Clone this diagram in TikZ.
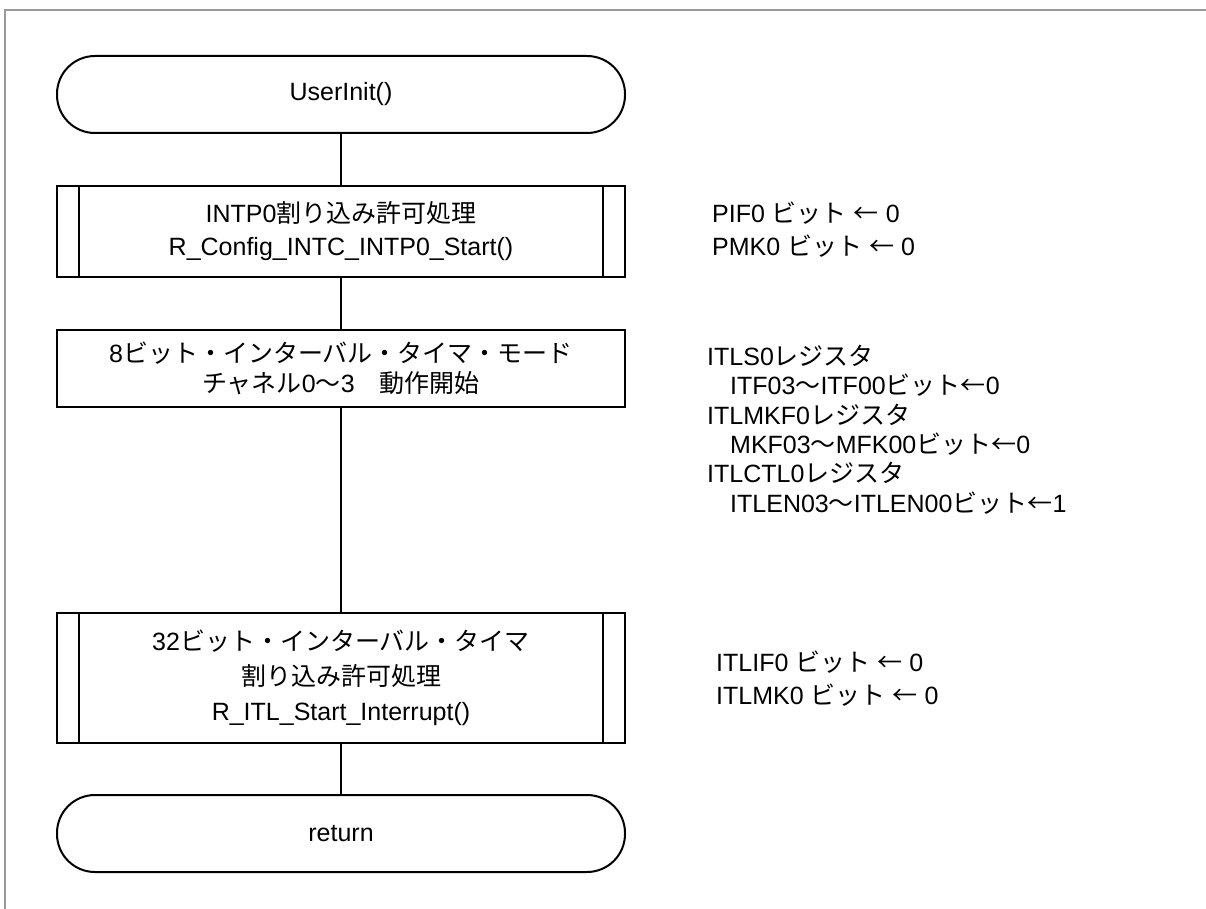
\documentclass[tikz,border=0pt]{standalone}
\usepackage{fontspec}
\setmainfont{Liberation Sans}
\newfontfamily\jpfont{Noto Sans CJK JP}
\newcommand{\ja}[1]{{\jpfont #1}}
\tikzset{
  term/.style={draw, line width=2pt, rounded corners=38pt, minimum width=568pt, minimum height=77pt, inner sep=0pt},
  proc/.style={draw, line width=2pt, minimum width=568pt, inner sep=0pt, align=center},
  note/.style={anchor=west, align=left, inner sep=0pt},
  flow/.style={line width=2pt}
}

\begin{document}
\begin{tikzpicture}[x=1pt, y=-1pt, font=\fontsize{25}{33}\selectfont]
    \useasboundingbox (0,0) rectangle (1206,909);
    \draw[gray!80, line width=1.2pt] (1206,10) -- (5,10) -- (5,909);
    \node[term] (start) at (341,94.5) {UserInit()};
    \node[proc, minimum height=91pt] (intp) at (341,231.5)
      {INTP0\ja{割り込み許可処理}\\R\_Config\_INTC\_INTP0\_Start()};
    \node[proc, minimum height=77pt, font=\fontsize{25}{30}\selectfont] (itlmode) at (341,368.5)
      {8\ja{ビット・インターバル・タイマ・モード}\\\ja{チャネル}0\ja{～}3\ja{　動作開始}};
    \node[proc, minimum height=130pt, font=\fontsize{25}{35}\selectfont] (itlint) at (341,678)
      {32\ja{ビット・インターバル・タイマ}\\\ja{割り込み許可処理}\\R\_ITL\_Start\_Interrupt()};
    \node[term] (ret) at (341,833.5) {return};
    \foreach \n in {intp,itlint} {
      \draw[flow] ([xshift=23pt]\n.north west) -- ([xshift=23pt]\n.south west);
      \draw[flow] ([xshift=-23pt]\n.north east) -- ([xshift=-23pt]\n.south east);
    }
    \draw[flow] (start) -- (intp);
    \draw[flow] (intp) -- (itlmode);
    \draw[flow] (itlmode) -- (itlint);
    \draw[flow] (itlint) -- (ret);
    \node[note] (pifnote) at (712,229.5)
      {PIF0 \ja{ビット} \ja{←} 0\\PMK0 \ja{ビット} \ja{←} 0};
    \node[note, font=\fontsize{25}{29.4}\selectfont] (itlsnote) at (707,429.5)
      {ITLS0\ja{レジスタ}\\
       \hspace*{23pt}ITF03\ja{～}ITF00\ja{ビット←}0\\
       ITLMKF0\ja{レジスタ}\\
       \hspace*{23pt}MKF03\ja{～}MFK00\ja{ビット←}0\\
       ITLCTL0\ja{レジスタ}\\
       \hspace*{23pt}ITLEN03\ja{～}ITLEN00\ja{ビット←}1};
    \node[note] (itlifnote) at (716,679)
      {ITLIF0 \ja{ビット} \ja{←} 0\\ITLMK0 \ja{ビット} \ja{←} 0};
\end{tikzpicture}
\end{document}
